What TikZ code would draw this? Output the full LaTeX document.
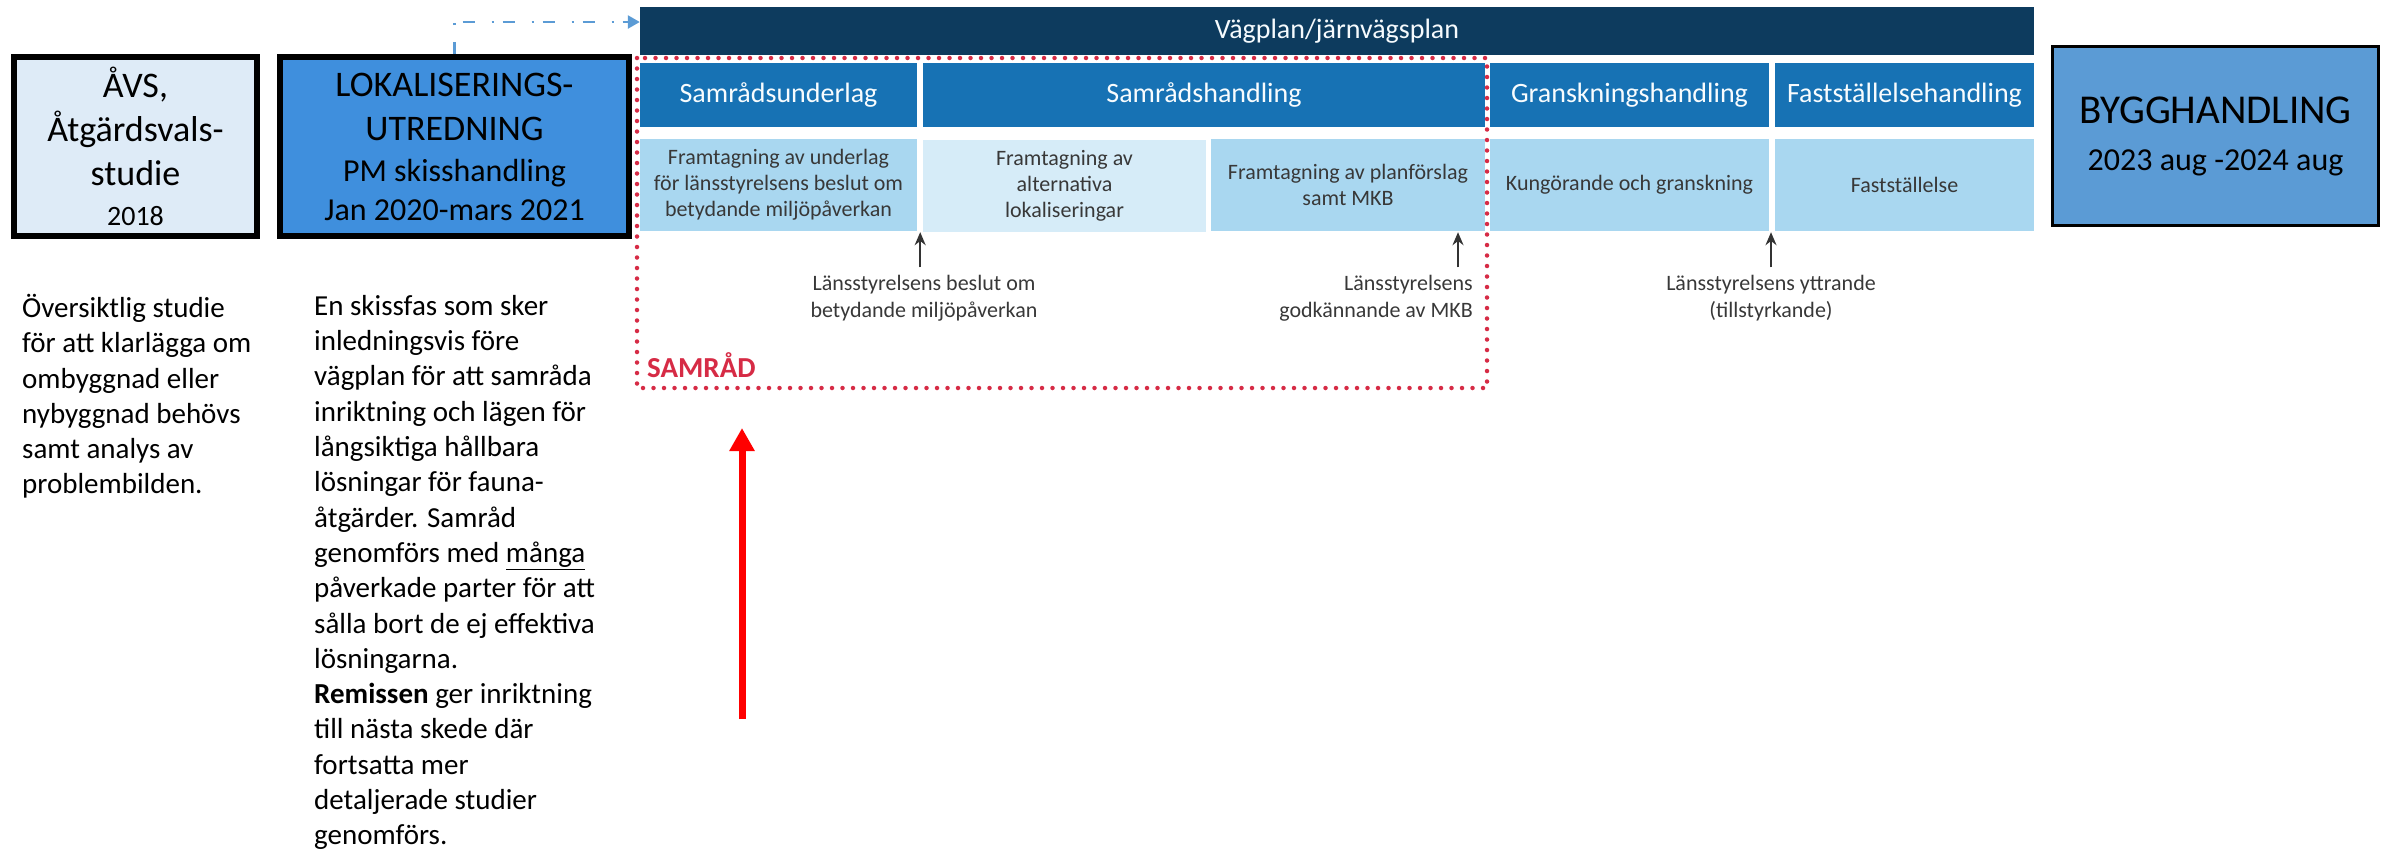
\documentclass[tikz,border=0pt]{standalone}
\usepackage{fontspec}
\setmainfont{Carlito}
\usetikzlibrary{arrows.meta}
\definecolor{avsfill}{HTML}{DEEBF7}
\definecolor{lokfill}{HTML}{3F8FDD}
\definecolor{byggfill}{HTML}{5B9BD5}
\definecolor{planband}{HTML}{0D3B5E}
\definecolor{phasehead}{HTML}{1772B4}
\definecolor{phasecell}{HTML}{A9D7F0}
\definecolor{phaselight}{HTML}{D6ECF8}
\definecolor{samradred}{HTML}{D62B45}
\definecolor{linkblue}{HTML}{5B9BD5}

\begin{document}
\begin{tikzpicture}[x=1pt,y=-1pt,
	stage/.style={draw=black,line width=6pt,align=center,inner sep=0pt},
	head/.style={fill=phasehead,text=white!92!phasecell,font=\fontsize{28}{32}\selectfont,inner sep=0pt,minimum height=64pt},
	cell/.style={fill=phasecell,text=black!78,align=center,font=\fontsize{22}{26}\selectfont,inner sep=0pt,minimum height=92pt},
	note/.style={text=black!78,align=center,font=\fontsize{22}{27}\selectfont,inner sep=0pt},
	desc/.style={anchor=north west,align=left,inner sep=0pt,font=\fontsize{29}{35.3}\selectfont},
	tick/.style={-{Stealth[length=13pt,width=11pt]},line width=2pt,black!80}]
	\useasboundingbox (0,0) rectangle (2386,852);
	\node[stage,fill=avsfill,minimum width=243pt,minimum height=179pt,font=\fontsize{36}{44}\selectfont] (avs) at (135.5,146.5) {ÅVS,\\Åtgärdsvals-\\studie\\[-4pt]{\fontsize{28}{32}\selectfont 2018}};
	\node[stage,fill=lokfill,minimum width=349pt,minimum height=179pt,font=\fontsize{36}{44}\selectfont] (lok) at (454.5,146.5) {LOKALISERINGS-\\UTREDNING\\[-3pt]{\fontsize{32}{38}\selectfont PM skisshandling}\\[-5pt]{\fontsize{32}{38}\selectfont Jan 2020-mars 2021}};
	\node[draw=black,line width=3pt,fill=byggfill,align=center,inner sep=0pt,minimum width=326pt,minimum height=179pt,font=\fontsize{41}{50}\selectfont] (bygg) at (2215.5,136) {BYGGHANDLING\\[-3pt]{\fontsize{32}{38}\selectfont 2023 aug -2024 aug}};
	\node[fill=planband,text=white!88!phasecell,inner sep=0pt,minimum width=1394pt,minimum height=48pt,font=\fontsize{28}{32}\selectfont] (band) at (1337,31) {Vägplan/järnvägsplan};
	\node[head,minimum width=277pt] (h1) at (778.5,95) {Samrådsunderlag};
	\node[head,minimum width=562pt] (h2) at (1204,95) {Samrådshandling};
	\node[head,minimum width=279pt] (h3) at (1629.5,95) {Granskningshandling};
	\node[head,minimum width=259pt] (h4) at (1904.5,95) {Fastställelsehandling};
	\node[cell,minimum width=277pt] (c1) at (778.5,185) {Framtagning av underlag\\för länsstyrelsens beslut om\\betydande miljöpåverkan};
	\node[cell,fill=phaselight,minimum width=283pt] (c2) at (1064.5,186) {Framtagning av\\alternativa\\lokaliseringar};
	\node[cell,minimum width=274pt] (c3) at (1348,185) {Framtagning av planförslag\\samt MKB};
	\node[cell,minimum width=279pt] (c4) at (1629.5,185) {Kungörande och granskning};
	\node[cell,minimum width=259pt] (c5) at (1904.5,185) {Fastställelse};
	\node[note] (lab1) at (924,298.5) {Länsstyrelsens beslut om\\betydande miljöpåverkan};
	\node[note,align=right,anchor=east] (lab2) at (1473,298.5) {Länsstyrelsens\\godkännande av MKB};
	\node[note] (lab3) at (1771,298.5) {Länsstyrelsens yttrande\\(tillstyrkande)};
	\draw[tick,shorten <=8pt,shorten >=1pt] ([xshift=3pt]c1.south east |- lab1.north) -- ([xshift=3pt]c1.south east);
	\draw[tick,shorten <=8pt,shorten >=1pt] ([xshift=-15pt]lab2.north east) -- ([xshift=-15pt]lab2.north east |- c3.south);
	\draw[tick,shorten <=8pt,shorten >=1pt] (lab3.north) -- (lab3.north |- c4.south);
	\draw[samradred,line width=4.5pt,line cap=round,dash pattern=on 0pt off 10.5pt] (637,58) rectangle (1487,388);
	\node[anchor=west,inner sep=0pt,text=samradred,font=\bfseries\fontsize{29}{32}\selectfont] (samrad) at (647,365) {SAMRÅD};
	\draw[linkblue,line width=2.5pt,dash pattern=on 12pt off 17pt on 2pt off 9pt,-{Triangle[length=12pt,width=13pt]}] (lok.north) |- ([yshift=9pt]band.west);
	\coordinate (pointer) at (742,719);
	\coordinate (pointed) at (742,428);
	\draw[red,line width=7pt,-{Triangle[length=23pt,width=24pt]}] (pointer) -- (pointed);
	\node[desc] (avsdesc) at (22,294) {Översiktlig studie\\för att klarlägga om\\ombyggnad eller\\nybyggnad behövs\\samt analys av\\problembilden.};
	\node[desc] (lokdesc) at (314,295) {En skissfas som sker\\inledningsvis före\\vägplan för att samråda\\inriktning och lägen för\\långsiktiga hållbara\\lösningar för fauna-\\åtgärder. Samråd\\genomförs med \underline{många}\\påverkade parter för att\\sålla bort de ej effektiva\\lösningarna.\\\textbf{Remissen} ger inriktning\\till nästa skede där\\fortsatta mer\\detaljerade studier\\genomförs.};
\end{tikzpicture}
\end{document}
